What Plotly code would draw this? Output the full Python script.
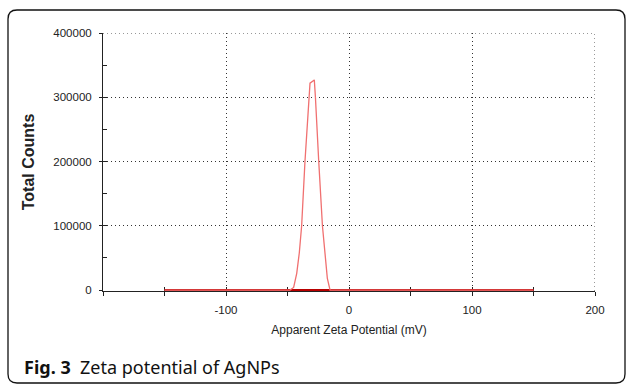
import plotly.graph_objects as go

# Data
zeta_mv = [-150, -48, -45, -42.5, -40.4, -38.5, -35.8, -32.3, -31.7, -28.2, -27.3, -24.6, -21.6, -17.6, -15.4, 150]
counts = [0, 0, 4000, 26000, 58000, 100000, 200000, 300000, 322000, 327000, 300000, 200000, 100000, 18000, 0, 0]
base_x = [-150, 150]
base_y = [0, 0]
x_ticks = [-100, 0, 100, 200]
y_ticks = [0, 100000, 200000, 300000, 400000]
y_range = [-1500, 400000]

W, H = 627, 387
L, R, T, B = 103, 32, 33, 96
pw, ph = W - L - R, H - T - B

def px(x):
    return (x - L) / pw

def py(y):
    return (H - B - y) / ph

fig = go.Figure()
fig.add_trace(go.Scatter(x=base_x, y=base_y, mode="lines",
                         line=dict(color="#b80000", width=2), showlegend=False, hoverinfo="skip"))
fig.add_trace(go.Scatter(x=zeta_mv, y=counts, mode="lines",
                         line=dict(color="#f07070", width=1.3), showlegend=False))
fig.add_trace(go.Scatter(x=[None], y=[None], xaxis="x2", yaxis="y2", showlegend=False, hoverinfo="skip"))

INK = "#222"
GRID = "#333"
tickfont = dict(family="Liberation Sans", size=11.5, color=INK)
grid = dict(showgrid=True, gridcolor=GRID, griddash="1px,3px", gridwidth=1)
fig.update_layout(
    width=W, height=H, margin=dict(l=L, r=R, t=T, b=B),
    paper_bgcolor="white", plot_bgcolor="white",
    xaxis=dict(range=[-200, 200], tickvals=x_ticks, ticktext=[str(v) for v in x_ticks],
               **grid, layer="below traces",
               showline=True, linecolor=INK, linewidth=1, zeroline=False,
               ticks="outside", ticklen=4, tickcolor=INK,
               minor=dict(dtick=50, ticks="outside", ticklen=4, tickcolor=INK, showgrid=False),
               tickfont=tickfont, ticklabelstandoff=4,
               title=dict(text="Apparent Zeta Potential (mV)", standoff=10,
                          font=dict(family="Liberation Sans", size=12, color=INK))),
    xaxis2=dict(range=[-200, 200], overlaying="x", anchor="y", side="bottom", layer="below traces",
                dtick=50, tick0=0, ticks="inside", ticklen=4, tickcolor=INK,
                showticklabels=False, showgrid=False, showline=False, zeroline=False),
    yaxis=dict(range=y_range, tickvals=y_ticks, ticktext=[str(v) for v in y_ticks],
               **grid, layer="below traces",
               showline=True, linecolor=INK, linewidth=1, zeroline=False,
               ticks="outside", ticklen=3, tickcolor=INK,
               tickfont=tickfont, ticklabelstandoff=5,
               title=dict(text="<b>Total Counts</b>", standoff=14,
                          font=dict(family="Liberation Sans", size=16, color=INK))),
    yaxis2=dict(range=y_range, overlaying="y", anchor="x", side="left", layer="below traces",
                dtick=50000, tick0=0, ticks="inside", ticklen=4, tickcolor=INK,
                showticklabels=False, showgrid=False, showline=False, zeroline=False),
)

# dotted edge gridlines at top and right (same style as grid)
fig.add_shape(type="line", xref="x", yref="y", x0=-200, x1=x_ticks[-1], y0=y_ticks[-1], y1=y_ticks[-1],
              line=dict(color=GRID, width=1, dash="1px,3px"), layer="below")
fig.add_shape(type="line", xref="x", yref="y", x0=x_ticks[-1], x1=x_ticks[-1], y0=y_range[0], y1=y_ticks[-1],
              line=dict(color=GRID, width=1, dash="1px,3px"), layer="below")

# Rounded frame
x0, x1, y0, y1, r = 8, 625, 10, 383, 9
path = (f"M {px(x0+r)},{py(y0)} L {px(x1-r)},{py(y0)} Q {px(x1)},{py(y0)} {px(x1)},{py(y0+r)} "
        f"L {px(x1)},{py(y1-r)} Q {px(x1)},{py(y1)} {px(x1-r)},{py(y1)} "
        f"L {px(x0+r)},{py(y1)} Q {px(x0)},{py(y1)} {px(x0)},{py(y1-r)} "
        f"L {px(x0)},{py(y0+r)} Q {px(x0)},{py(y0)} {px(x0+r)},{py(y0)} Z")
fig.add_shape(type="path", path=path, xref="paper", yref="paper",
              line=dict(color="#111", width=1.3), layer="below")

fig.add_annotation(x=px(22), y=py(367), xref="paper", yref="paper", xanchor="left", yanchor="middle",
                   text="<b>Fig. 3</b>  Zeta potential of AgNPs", showarrow=False,
                   font=dict(family="Noto Sans", size=18, color="#111"))

fig.write_html("out.html")
